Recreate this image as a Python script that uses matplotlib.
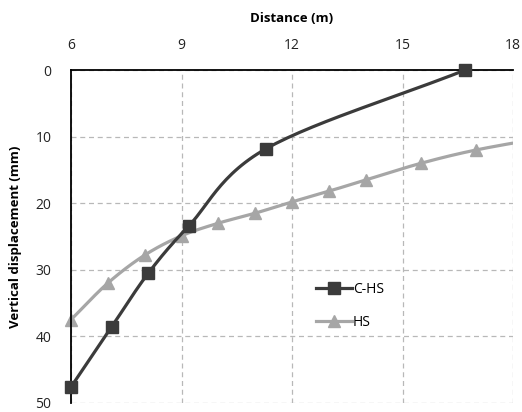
import matplotlib.pyplot as plt
import numpy as np

plt.rcParams['font.family'] = ['Open Sans', 'DejaVu Sans']

# displacement profiles
chs_x = [6.0, 7.1, 8.1, 9.2, 11.3, 16.7]
chs_y = [47.6, 38.6, 30.5, 23.4, 11.8, 0.0]
hs_x = [6.0, 7.0, 8.0, 9.0, 10.0, 11.0, 12.0, 13.0, 14.0, 15.5, 17.0, 19.0]
hs_y = [37.5, 32.0, 27.8, 24.9, 23.0, 21.5, 19.8, 18.2, 16.5, 14.0, 12.0, 10.0]

x_ticks = [6, 9, 12, 15, 18]
y_ticks = [0, 10, 20, 30, 40, 50]


def smooth(x, y, n=30):
    # Catmull-Rom curve through the points
    p = np.column_stack([x, y])
    p = np.vstack([2 * p[0] - p[1], p, 2 * p[-1] - p[-2]])
    out = []
    t = np.linspace(0, 1, n)[:, None]
    for i in range(1, len(p) - 2):
        p0, p1, p2, p3 = p[i - 1], p[i], p[i + 1], p[i + 2]
        seg = 0.5 * ((2 * p1) + (-p0 + p2) * t + (2 * p0 - 5 * p1 + 4 * p2 - p3) * t ** 2
                     + (-p0 + 3 * p1 - 3 * p2 + p3) * t ** 3)
        out.append(seg)
    out = np.vstack(out)
    return out[:, 0], out[:, 1]


fig = plt.figure(figsize=(5.22, 4.12), dpi=100)
ax = fig.add_axes([0.136, 0.022, 0.847, 0.808])

dark = '#3b3b3b'
light = '#a6a6a6'

sx, sy = smooth(chs_x, chs_y)
ax.plot(sx, sy, color=dark, lw=2.3, zorder=3)
ax.plot(chs_x, chs_y, ls='none', marker='s', ms=9, color=dark, zorder=4, clip_on=False)
hx, hy = smooth(hs_x, hs_y)
ax.plot(hx, hy, color=light, lw=2.3, zorder=2)
ax.plot(hs_x[:-1], hs_y[:-1], ls='none', marker='^', ms=9, color=light, zorder=2, clip_on=False)

# legend entries
ax.plot([], [], color=dark, lw=2.3, marker='s', ms=9, label='C-HS')
ax.plot([], [], color=light, lw=2.3, marker='^', ms=9, label='HS')
ax.legend(loc='upper left', bbox_to_anchor=(0.525, 0.40), frameon=False,
          handlelength=2.6, handletextpad=0.1, labelspacing=1.25, fontsize=10)

ax.set_xlim(6, 18)
ax.set_ylim(50, 0)
ax.set_xticks(x_ticks)
ax.set_yticks(y_ticks)
ax.xaxis.tick_top()
ax.xaxis.set_label_position('top')
ax.tick_params(length=0, labelsize=10, colors='#222222', pad=12)
ax.tick_params(axis='y', pad=14)
ax.grid(True, ls=(0, (4, 3)), color='#b8b8b8', lw=0.9)
for s in ['right', 'bottom']:
    ax.spines[s].set_visible(False)
for s in ['left', 'top']:
    ax.spines[s].set_linewidth(1.3)
ax.set_xlabel('Distance (m)', fontsize=9.5, fontweight='bold', labelpad=12)
ax.set_ylabel('Vertical displacement (mm)', fontsize=9.5, fontweight='bold', labelpad=10)

fig.savefig('out.png', dpi=100)
